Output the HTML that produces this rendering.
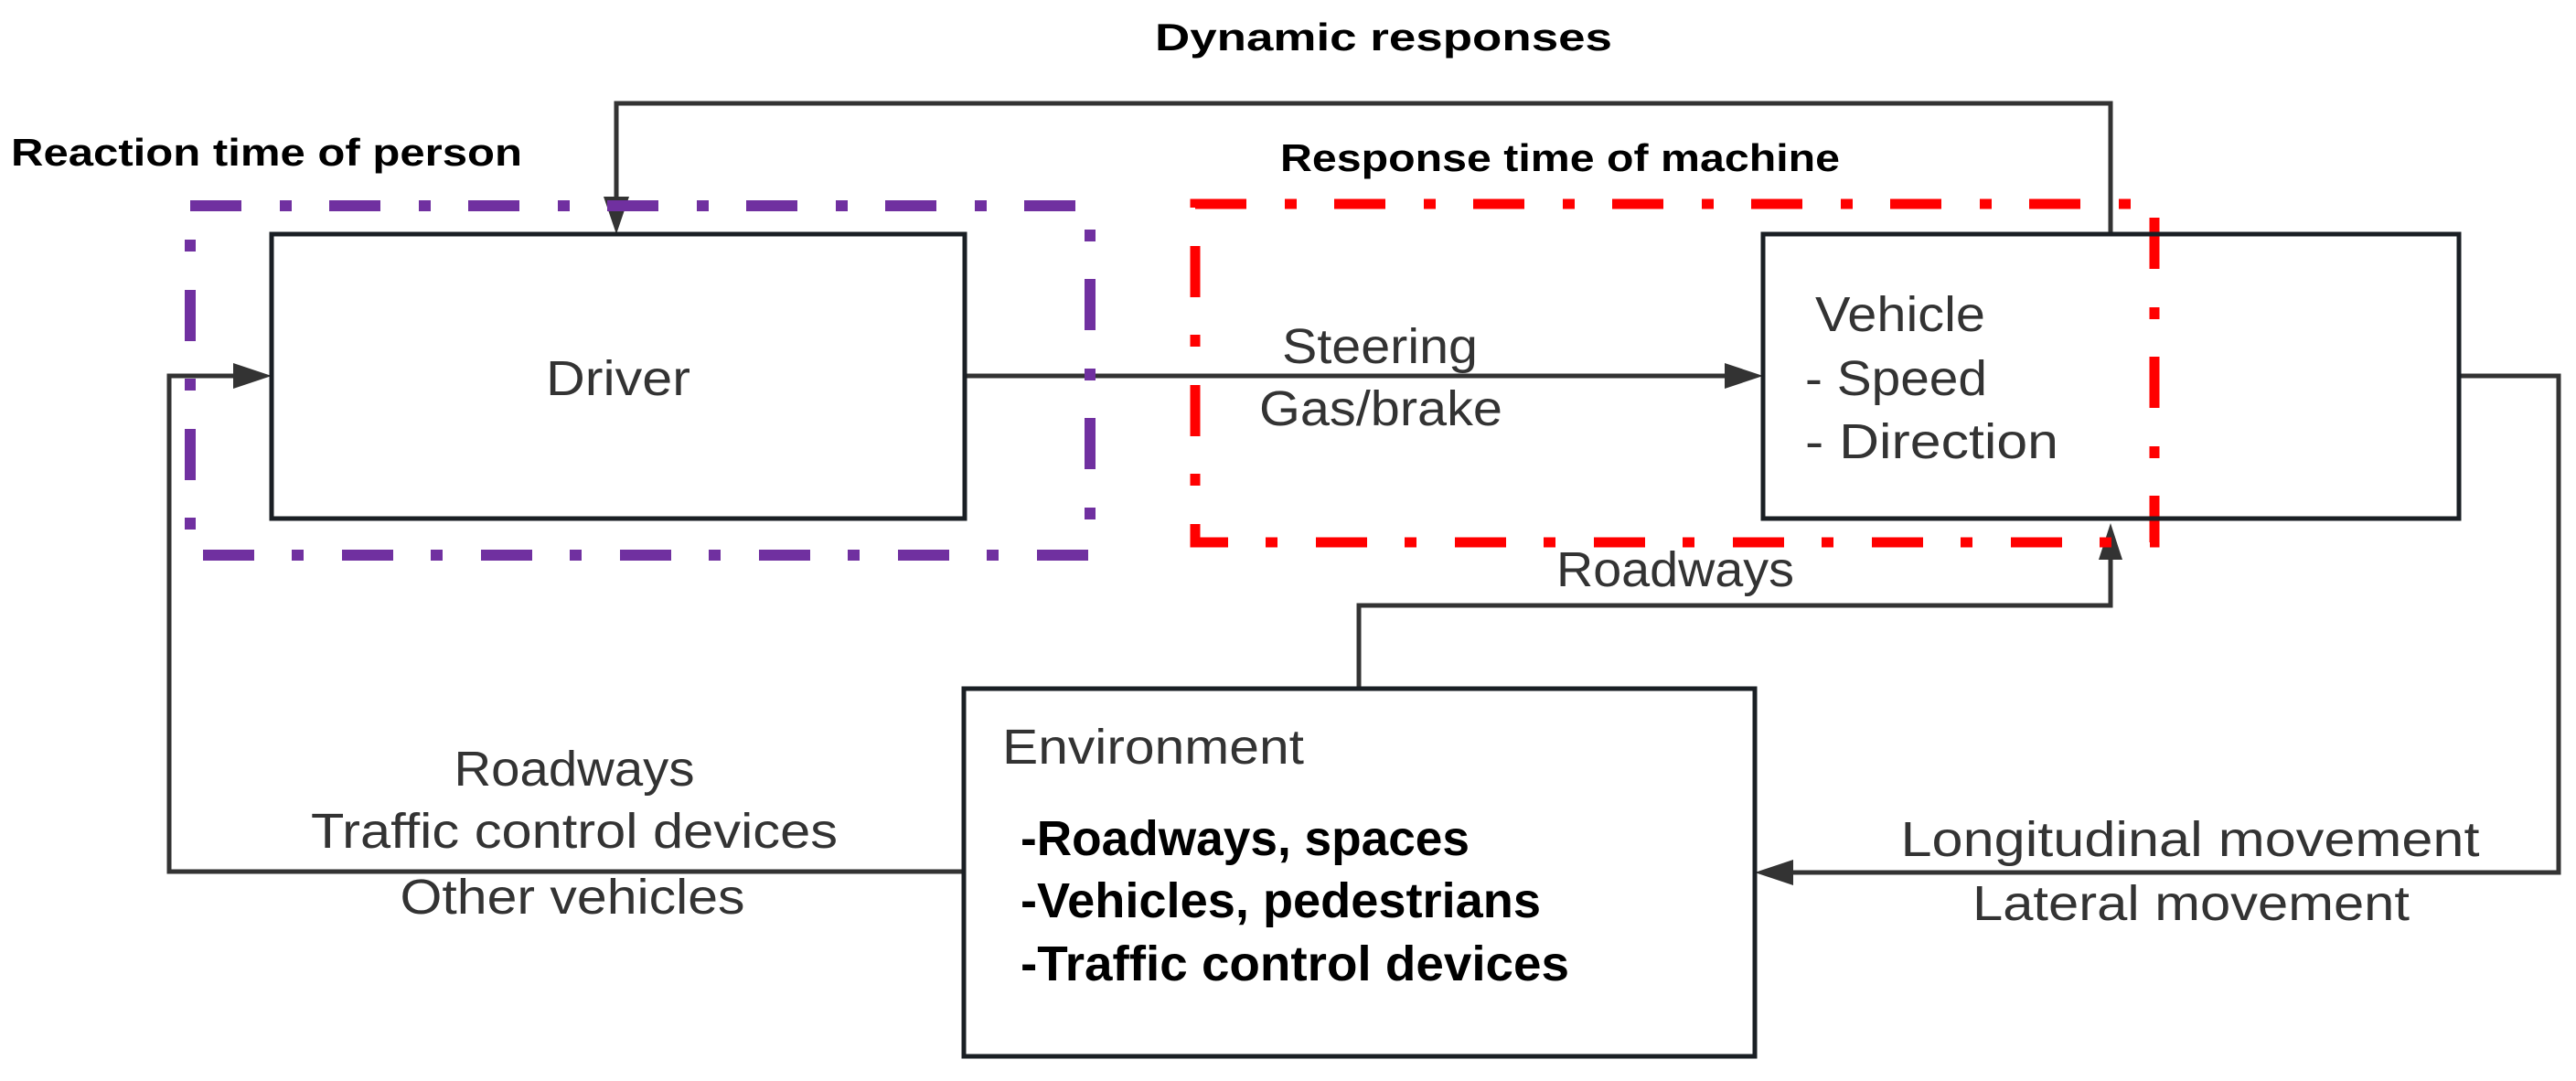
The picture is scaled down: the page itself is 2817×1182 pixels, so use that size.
<!DOCTYPE html>
<html><head><meta charset="utf-8"><style>
html,body{margin:0;padding:0;background:#fff;}
svg{display:block;}
text{font-family:"Liberation Sans",sans-serif;}
.n{fill:#333;font-size:54px;}
.b{fill:#000;font-size:42px;font-weight:bold;}
.e{fill:#000;font-size:54px;font-weight:bold;}
</style></head><body>
<svg width="2817" height="1182" viewBox="0 0 2817 1182" xmlns="http://www.w3.org/2000/svg">
<g fill="none" stroke="#333" stroke-width="5">
<polyline points="2308,256 2308,113 674,113 674,220"/>
<line x1="1055" y1="411" x2="1890" y2="411"/>
<polyline points="1054,953 185,953 185,411 255,411"/>
<polyline points="2689,411 2798,411 2798,954 1955,954"/>
<polyline points="1486,753 1486,662 2308,662 2308,610"/>
</g>
<g fill="#333">
<polygon points="674,256 660,215 688,215"/>
<polygon points="1928,411 1886,397 1886,425"/>
<polygon points="297,411 255,397 255,425"/>
<polygon points="1919,954 1961,940 1961,968"/>
<polygon points="2308,572 2295,612 2321,612"/>
</g>
<rect x="208" y="225" width="984" height="382" fill="none" stroke="#7030a0" stroke-width="12" stroke-dasharray="56 42 13 41"/>
<rect x="1307" y="223" width="1049" height="370" fill="none" stroke="#ff0000" stroke-width="11" stroke-dasharray="56 42 13 41"/>
<g fill="none" stroke="#1a1f24" stroke-width="5">
<rect x="297" y="256" width="758" height="311"/>
<rect x="1928" y="256" width="761" height="311"/>
<rect x="1054" y="753" width="865" height="402"/>
</g>
<text class="b" x="1263" y="55" textLength="500" lengthAdjust="spacingAndGlyphs">Dynamic responses</text>
<text class="b" x="12" y="181" textLength="559" lengthAdjust="spacingAndGlyphs">Reaction time of person</text>
<text class="b" x="1400" y="187" textLength="612" lengthAdjust="spacingAndGlyphs">Response time of machine</text>
<text class="n" x="676" y="432" text-anchor="middle" textLength="158" lengthAdjust="spacingAndGlyphs">Driver</text>
<text class="n" x="1509" y="397" text-anchor="middle" textLength="214" lengthAdjust="spacingAndGlyphs">Steering</text>
<text class="n" x="1510" y="465" text-anchor="middle" textLength="266" lengthAdjust="spacingAndGlyphs">Gas/brake</text>
<text class="n" x="1985" y="362" textLength="186" lengthAdjust="spacingAndGlyphs">Vehicle</text>
<text class="n" x="1974" y="432" textLength="199" lengthAdjust="spacingAndGlyphs">- Speed</text>
<text class="n" x="1974" y="501" textLength="277" lengthAdjust="spacingAndGlyphs">- Direction</text>
<text class="n" x="1832" y="641" text-anchor="middle" textLength="260" lengthAdjust="spacingAndGlyphs">Roadways</text>
<text class="n" x="628" y="859" text-anchor="middle" textLength="263" lengthAdjust="spacingAndGlyphs">Roadways</text>
<text class="n" x="628" y="927" text-anchor="middle" textLength="576" lengthAdjust="spacingAndGlyphs">Traffic control devices</text>
<text class="n" x="626" y="999" text-anchor="middle" textLength="377" lengthAdjust="spacingAndGlyphs">Other vehicles</text>
<text class="n" x="1096" y="835" font-size="50" textLength="330" lengthAdjust="spacingAndGlyphs">Environment</text>
<text class="e" x="1116" y="935" textLength="491" lengthAdjust="spacingAndGlyphs">-Roadways, spaces</text>
<text class="e" x="1116" y="1003" textLength="569" lengthAdjust="spacingAndGlyphs">-Vehicles, pedestrians</text>
<text class="e" x="1116" y="1072" textLength="600" lengthAdjust="spacingAndGlyphs">-Traffic control devices</text>
<text class="n" x="2395" y="936" text-anchor="middle" textLength="633" lengthAdjust="spacingAndGlyphs">Longitudinal movement</text>
<text class="n" x="2396" y="1006" text-anchor="middle" textLength="478" lengthAdjust="spacingAndGlyphs">Lateral movement</text>
</svg>
</body></html>
